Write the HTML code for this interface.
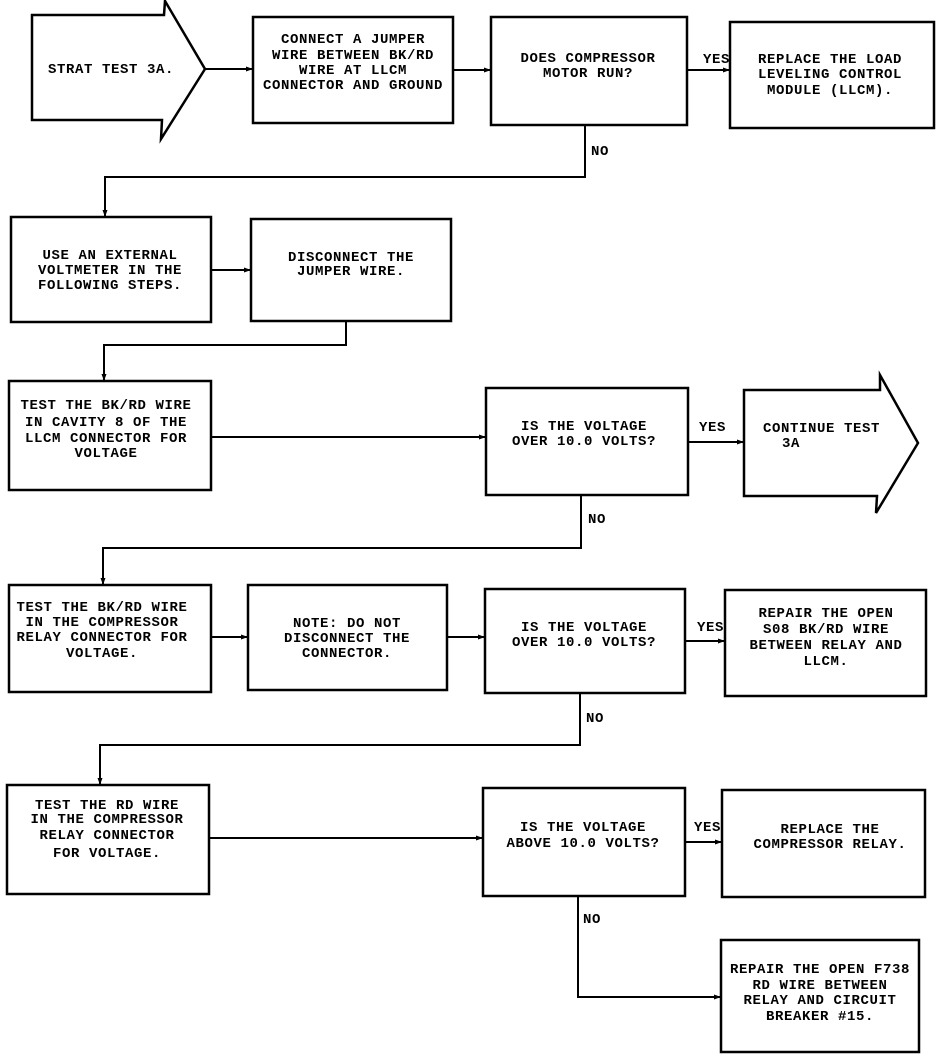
<!DOCTYPE html>
<html><head><meta charset="utf-8"><style>
html,body{margin:0;padding:0;background:#fff;}
svg{display:block;}
text{font-family:"Liberation Mono",monospace;font-size:14px;font-weight:bold;letter-spacing:0.6px;fill:#000;}
.c{text-anchor:middle;}
</style></head><body>
<svg width="944" height="1056" viewBox="0 0 944 1056">
<defs><marker id="a" markerWidth="8" markerHeight="8" refX="7" refY="4" orient="auto" markerUnits="userSpaceOnUse"><path d="M0,1.5 L7,4 L0,6.5 z" fill="#000"/></marker></defs>
<g fill="none" stroke="#000" stroke-width="2.5">
<polygon points="32,15 164,15 165,1 205,69 161,139 162,120 32,120"/>
<rect x="253" y="17" width="200" height="106"/>
<rect x="491" y="17" width="196" height="108"/>
<rect x="730" y="22" width="204" height="106"/>
<rect x="11" y="217" width="200" height="105"/>
<rect x="251" y="219" width="200" height="102"/>
<rect x="9" y="381" width="202" height="109"/>
<rect x="486" y="388" width="202" height="107"/>
<polygon points="744,390 880,390 880,375 918,443 876,513 877,496 744,496"/>
<rect x="9" y="585" width="202" height="107"/>
<rect x="248" y="585" width="199" height="105"/>
<rect x="485" y="589" width="200" height="104"/>
<rect x="725" y="590" width="201" height="106"/>
<rect x="7" y="785" width="202" height="109"/>
<rect x="483" y="788" width="202" height="108"/>
<rect x="722" y="790" width="203" height="107"/>
<rect x="721" y="940" width="198" height="112"/>
</g>
<g fill="none" stroke="#000" stroke-width="2">
<line x1="205" y1="69" x2="253" y2="69" marker-end="url(#a)"/>
<line x1="453" y1="70" x2="491" y2="70" marker-end="url(#a)"/>
<line x1="687" y1="70" x2="730" y2="70" marker-end="url(#a)"/>
<polyline points="585,125 585,177 105,177 105,217" marker-end="url(#a)"/>
<line x1="211" y1="270" x2="251" y2="270" marker-end="url(#a)"/>
<polyline points="346,321 346,345 104,345 104,381" marker-end="url(#a)"/>
<line x1="211" y1="437" x2="486" y2="437" marker-end="url(#a)"/>
<line x1="688" y1="442" x2="744" y2="442" marker-end="url(#a)"/>
<polyline points="581,495 581,548 103,548 103,585" marker-end="url(#a)"/>
<line x1="211" y1="637" x2="248" y2="637" marker-end="url(#a)"/>
<line x1="447" y1="637" x2="485" y2="637" marker-end="url(#a)"/>
<line x1="685" y1="641" x2="725" y2="641" marker-end="url(#a)"/>
<polyline points="580,693 580,745 100,745 100,785" marker-end="url(#a)"/>
<line x1="209" y1="838" x2="483" y2="838" marker-end="url(#a)"/>
<line x1="685" y1="842" x2="722" y2="842" marker-end="url(#a)"/>
<polyline points="578,896 578,997 721,997" marker-end="url(#a)"/>
</g>
<text x="48" y="73">STRAT TEST 3A.</text>
<text class="c" x="353" y="43">CONNECT A JUMPER</text>
<text class="c" x="353" y="59">WIRE BETWEEN BK/RD</text>
<text class="c" x="353" y="74">WIRE AT LLCM</text>
<text class="c" x="353" y="89">CONNECTOR AND GROUND</text>
<text class="c" x="588" y="62">DOES COMPRESSOR</text>
<text class="c" x="588" y="77">MOTOR RUN?</text>
<text x="703" y="63">YES</text>
<text class="c" x="830" y="63">REPLACE THE LOAD</text>
<text class="c" x="830" y="78">LEVELING CONTROL</text>
<text class="c" x="830" y="94">MODULE (LLCM).</text>
<text x="591" y="155">NO</text>
<text class="c" x="110" y="259">USE AN EXTERNAL</text>
<text class="c" x="110" y="274">VOLTMETER IN THE</text>
<text class="c" x="110" y="289">FOLLOWING STEPS.</text>
<text class="c" x="351" y="261">DISCONNECT THE</text>
<text class="c" x="351" y="275">JUMPER WIRE.</text>
<text class="c" x="106" y="409">TEST THE BK/RD WIRE</text>
<text class="c" x="106" y="426">IN CAVITY 8 OF THE</text>
<text class="c" x="106" y="442">LLCM CONNECTOR FOR</text>
<text class="c" x="106" y="457">VOLTAGE</text>
<text class="c" x="584" y="430">IS THE VOLTAGE</text>
<text class="c" x="584" y="445">OVER 10.0 VOLTS?</text>
<text x="699" y="431">YES</text>
<text x="763" y="432">CONTINUE TEST</text>
<text x="782" y="447">3A</text>
<text x="588" y="523">NO</text>
<text class="c" x="102" y="611">TEST THE BK/RD WIRE</text>
<text class="c" x="102" y="626">IN THE COMPRESSOR</text>
<text class="c" x="102" y="641">RELAY CONNECTOR FOR</text>
<text class="c" x="102" y="657">VOLTAGE.</text>
<text class="c" x="347" y="627">NOTE: DO NOT</text>
<text class="c" x="347" y="642">DISCONNECT THE</text>
<text class="c" x="347" y="657">CONNECTOR.</text>
<text class="c" x="584" y="631">IS THE VOLTAGE</text>
<text class="c" x="584" y="646">OVER 10.0 VOLTS?</text>
<text x="697" y="631">YES</text>
<text class="c" x="826" y="617">REPAIR THE OPEN</text>
<text class="c" x="826" y="633">S08 BK/RD WIRE</text>
<text class="c" x="826" y="649">BETWEEN RELAY AND</text>
<text class="c" x="826" y="665">LLCM.</text>
<text x="586" y="722">NO</text>
<text class="c" x="107" y="809">TEST THE RD WIRE</text>
<text class="c" x="107" y="823">IN THE COMPRESSOR</text>
<text class="c" x="107" y="839">RELAY CONNECTOR</text>
<text class="c" x="107" y="857">FOR VOLTAGE.</text>
<text class="c" x="583" y="831">IS THE VOLTAGE</text>
<text class="c" x="583" y="847">ABOVE 10.0 VOLTS?</text>
<text x="694" y="831">YES</text>
<text class="c" x="830" y="833">REPLACE THE</text>
<text class="c" x="830" y="848">COMPRESSOR RELAY.</text>
<text x="583" y="923">NO</text>
<text class="c" x="820" y="973">REPAIR THE OPEN F738</text>
<text class="c" x="820" y="989">RD WIRE BETWEEN</text>
<text class="c" x="820" y="1004">RELAY AND CIRCUIT</text>
<text class="c" x="820" y="1020">BREAKER #15.</text>
</svg>
</body></html>
